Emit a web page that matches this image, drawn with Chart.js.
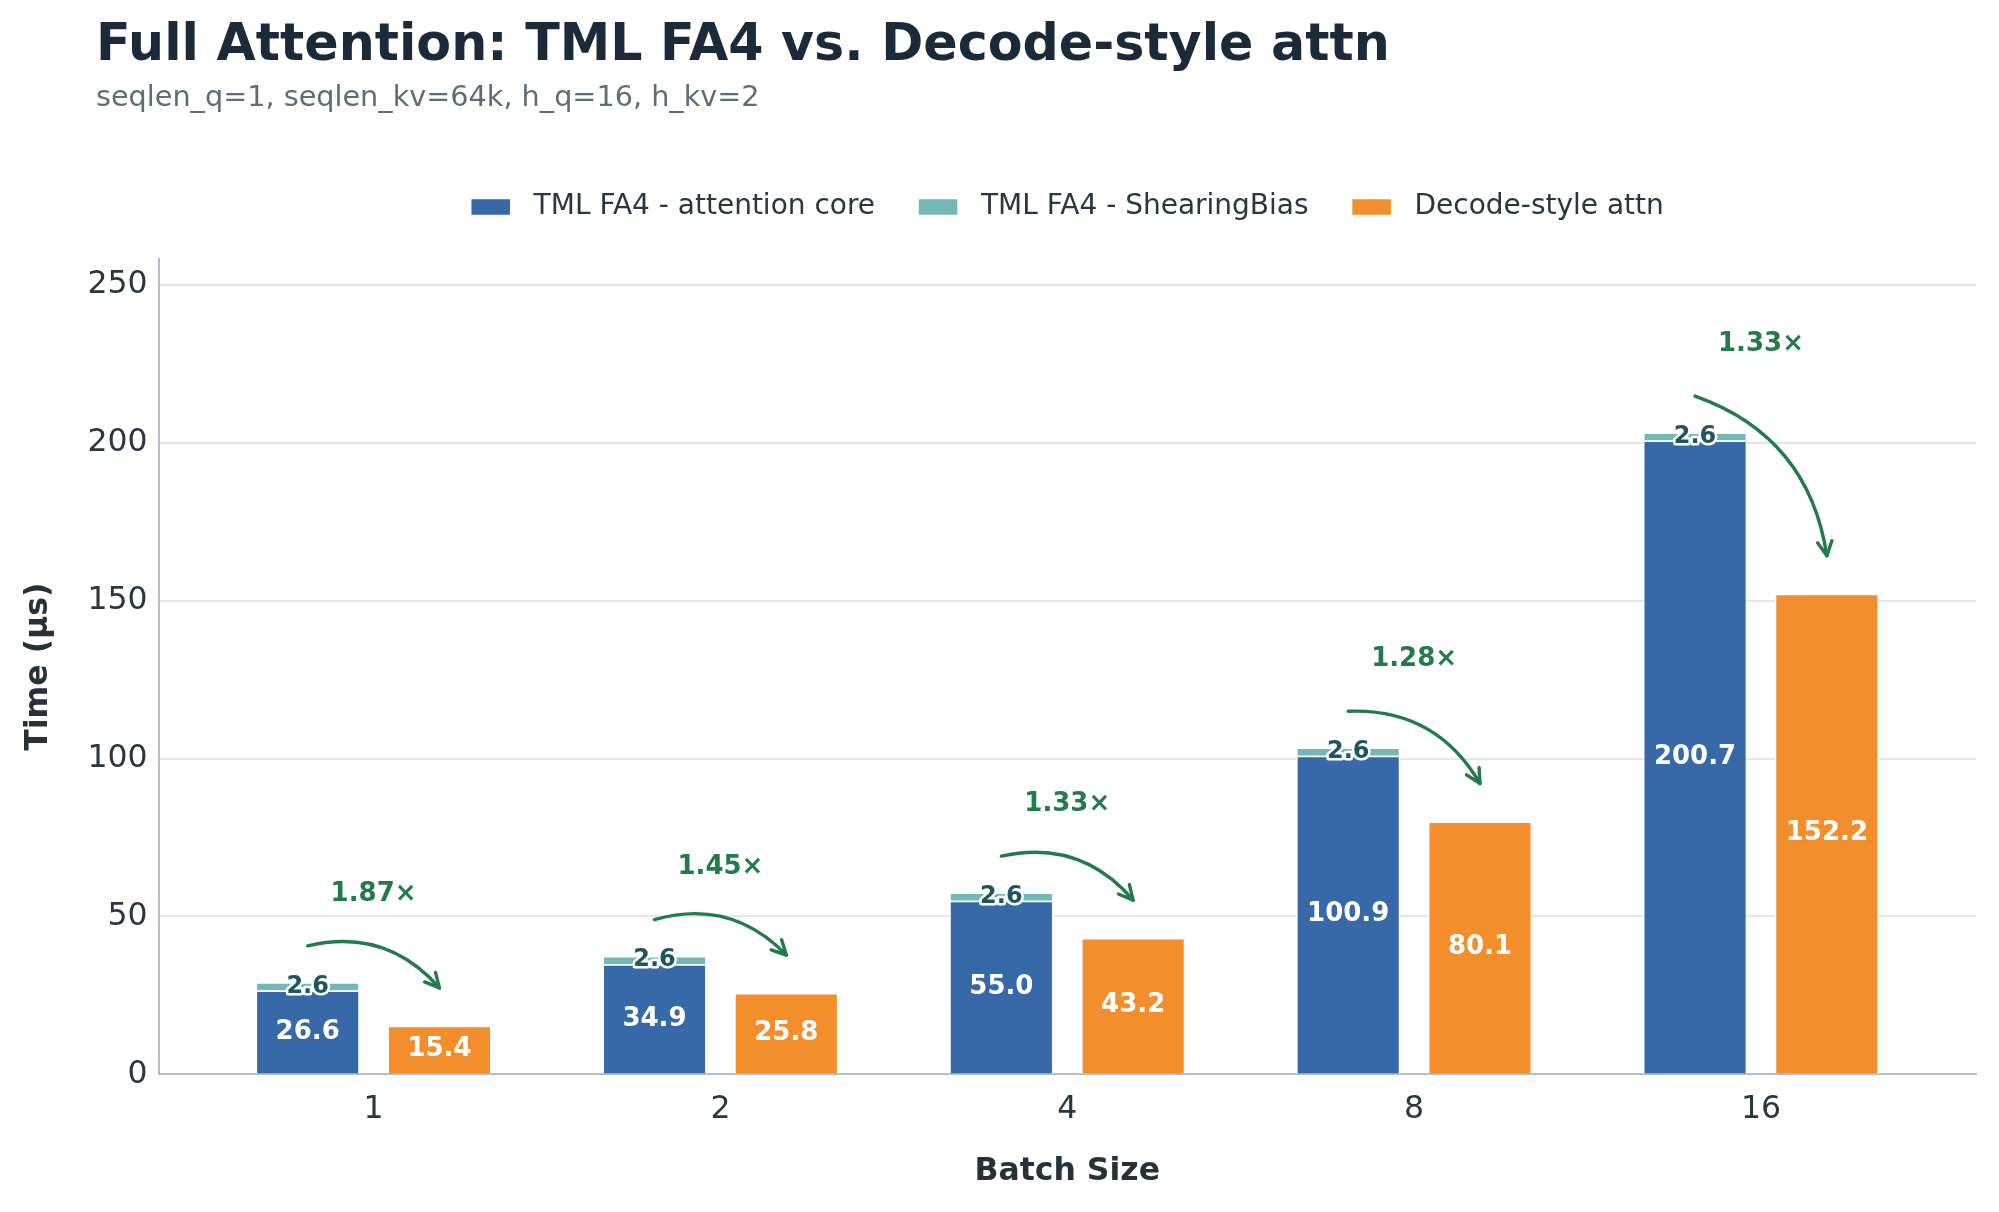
<!DOCTYPE html>
<html>
<head>
<meta charset="utf-8">
<script src="https://cdn.jsdelivr.net/npm/chart.js@4.4.1/dist/chart.umd.min.js"></script>
<style>
  html, body { margin: 0; padding: 0; background: #ffffff; }
</style>
</head>
<body>
<canvas id="chart" width="1999" height="1212"></canvas>
<script>
// data
const batchSizes = ["1", "2", "4", "8", "16"];
const attnCore = [26.6, 34.9, 55.0, 100.9, 200.7];
const shearingBias = [2.6, 2.6, 2.6, 2.6, 2.6];
const decodeAttn = [15.4, 25.8, 43.2, 80.1, 152.2];
const speedups = ["1.87×", "1.45×", "1.33×", "1.28×", "1.33×"];
const seriesNames = ["TML FA4 - attention core", "TML FA4 - ShearingBias", "Decode-style attn"];

const FONT = "'DejaVu Sans', sans-serif";
const BLUE = '#3768a8';
const TEAL = '#74b7b7';
const ORANGE = '#f28e2c';
const GREEN = '#237a4b';
const INK = '#2a3640';

Chart.defaults.font.family = FONT;
Chart.defaults.color = INK;

const toPoints = arr => arr.map((v, i) => ({ x: i, y: v }));

// title + subtitle, left aligned like the original figure
const header = {
  id: 'header',
  beforeDraw(chart) {
    const ctx = chart.ctx;
    ctx.save();
    ctx.textAlign = 'left';
    ctx.textBaseline = 'alphabetic';
    ctx.fillStyle = '#1b2a39';
    ctx.font = 'bold 50.7px ' + FONT;
    ctx.fillText('Full Attention: TML FA4 vs. Decode-style attn', 96, 60);
    ctx.fillStyle = '#5f6d78';
    ctx.font = '28.7px ' + FONT;
    ctx.fillText('seqlen_q=1, seqlen_kv=64k, h_q=16, h_kv=2', 96, 106);
    ctx.restore();
  }
};

// leave some air between the legend and the plot
const legendGap = {
  id: 'legendGap',
  beforeInit(chart) {
    const fit = chart.legend.fit;
    chart.legend.fit = function () {
      fit.call(this);
      this.height += 28;
    };
  }
};

// numbers written on the bars
const barLabels = {
  id: 'barLabels',
  afterDatasetsDraw(chart) {
    const ctx = chart.ctx;
    ctx.save();
    ctx.textAlign = 'center';
    ctx.textBaseline = 'middle';
    chart.data.datasets.forEach((ds, d) => {
      chart.getDatasetMeta(d).data.forEach((bar, i) => {
        const { x, y, base } = bar.getProps(['x', 'y', 'base'], true);
        const cy = (y + base) / 2;
        const txt = ds.data[i].y.toFixed(1);
        if (d === 1) {
          ctx.font = 'bold 24px ' + FONT;
          ctx.lineJoin = 'round';
          ctx.lineWidth = 5;
          ctx.strokeStyle = '#ffffff';
          ctx.strokeText(txt, x, cy);
          ctx.fillStyle = '#1e5560';
          ctx.fillText(txt, x, cy);
        } else {
          ctx.font = 'bold 26px ' + FONT;
          ctx.fillStyle = '#ffffff';
          ctx.fillText(txt, x, cy);
        }
      });
    });
    ctx.restore();
  }
};

// curved speedup arrows (arc3, rad=-0.3) with the ratio above
const speedArrows = {
  id: 'speedArrows',
  afterDatasetsDraw(chart) {
    const ctx = chart.ctx;
    const xs = chart.scales.x, ys = chart.scales.y;
    const core = chart.getDatasetMeta(0).data;
    const dec = chart.getDatasetMeta(2).data;
    ctx.save();
    batchSizes.forEach((b, i) => {
      const top = attnCore[i] + shearingBias[i];
      const x0 = core[i].x, y0 = ys.getPixelForValue(top + 11.5);
      const x1 = dec[i].x, y1 = ys.getPixelForValue(decodeAttn[i] + 12);
      const mx = (x0 + x1) / 2, my = (y0 + y1) / 2;
      const cx = mx + 0.3 * (y1 - y0);
      const cy = my - 0.3 * (x1 - x0);
      ctx.strokeStyle = GREEN;
      ctx.lineWidth = 3.4;
      ctx.lineCap = 'round';
      ctx.lineJoin = 'round';
      ctx.beginPath();
      ctx.moveTo(x0, y0);
      ctx.quadraticCurveTo(cx, cy, x1, y1);
      ctx.stroke();
      const ang = Math.atan2(y1 - cy, x1 - cx);
      const len = 16, spread = 0.47;
      ctx.beginPath();
      ctx.moveTo(x1 - len * Math.cos(ang - spread), y1 - len * Math.sin(ang - spread));
      ctx.lineTo(x1, y1);
      ctx.lineTo(x1 - len * Math.cos(ang + spread), y1 - len * Math.sin(ang + spread));
      ctx.stroke();

      ctx.fillStyle = GREEN;
      ctx.font = 'bold 26px ' + FONT;
      ctx.textAlign = 'center';
      ctx.textBaseline = 'middle';
      ctx.fillText(speedups[i], xs.getPixelForValue(i), ys.getPixelForValue(Math.max(top, decodeAttn[i]) + 28));
    });
    ctx.restore();
  }
};

new Chart(document.getElementById('chart'), {
  type: 'bar',
  data: {
    datasets: [
      {
        label: seriesNames[0],
        data: toPoints(attnCore),
        backgroundColor: BLUE,
        borderColor: '#ffffff',
        borderWidth: 1.5,
        stack: 'fa4'
      },
      {
        label: seriesNames[1],
        data: toPoints(shearingBias),
        backgroundColor: TEAL,
        borderColor: '#ffffff',
        borderWidth: 1.5,
        stack: 'fa4'
      },
      {
        label: seriesNames[2],
        data: toPoints(decodeAttn),
        backgroundColor: ORANGE,
        borderColor: '#ffffff',
        borderWidth: 1.5,
        stack: 'decode'
      }
    ]
  },
  options: {
    responsive: false,
    animation: false,
    categoryPercentage: 0.76,
    barPercentage: 0.79,
    layout: { padding: { top: 150, left: 10, right: 23, bottom: 21 } },
    plugins: {
      legend: {
        position: 'top',
        fullSize: false,
        labels: {
          boxWidth: 40,
          boxHeight: 17,
          padding: 43,
          color: INK,
          font: { size: 28 },
          generateLabels: chart => Chart.defaults.plugins.legend.labels.generateLabels(chart)
            .map(item => ({ ...item, text: ' ' + item.text }))
        }
      },
      tooltip: { enabled: false }
    },
    scales: {
      x: {
        type: 'linear',
        min: -0.62,
        max: 4.62,
        offset: false,
        grid: { display: false, drawTicks: false },
        border: { display: true, color: '#b3bdc7', width: 2 },
        ticks: {
          stepSize: 1,
          includeBounds: false,
          padding: 17,
          color: INK,
          font: { size: 31.5 },
          callback: v => batchSizes[v] ?? ''
        },
        title: {
          display: true,
          text: 'Batch Size',
          color: '#263238',
          font: { size: 31.5, weight: 'bold' },
          padding: { top: 7, bottom: 0 }
        }
      },
      y: {
        min: 0,
        max: 258.2,
        grid: { color: '#e2e7ed', lineWidth: 2, drawTicks: false },
        border: { display: true, color: '#b3bdc7', width: 2 },
        ticks: {
          stepSize: 50,
          includeBounds: false,
          padding: 11,
          color: INK,
          font: { size: 31.5 }
        },
        title: {
          display: true,
          text: 'Time (μs)',
          color: '#263238',
          font: { size: 31.5, weight: 'bold' },
          padding: { top: 10, bottom: 18.6 }
        }
      }
    }
  },
  plugins: [header, legendGap, barLabels, speedArrows]
});
</script>
</body>
</html>
